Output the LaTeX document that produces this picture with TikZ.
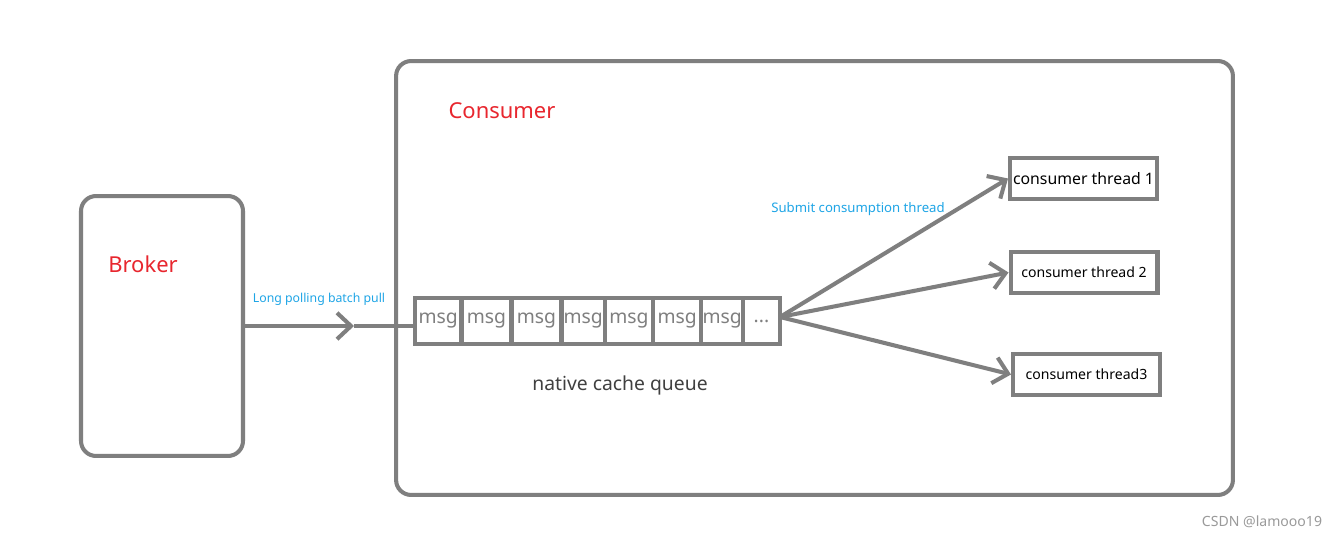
\documentclass[tikz,border=0pt]{standalone}
\usepackage{fontspec}
\setmainfont{Noto Sans}
\usetikzlibrary{positioning,arrows.meta}
\definecolor{linegray}{HTML}{7F7F7F}
\definecolor{titlered}{HTML}{E8262E}
\definecolor{notecyan}{HTML}{1EA5E6}
\definecolor{marksgray}{HTML}{9A9A9A}

\begin{document}
\begin{tikzpicture}[x=0.02cm,y=-0.02cm,
    box/.style={draw=linegray,line width=2.3pt,rounded corners=0.3cm},
    cell/.style={draw=linegray,line width=2.3pt,outer sep=0pt,inner sep=0pt,
      minimum height=0.92cm,text=linegray,font=\fontsize{11}{13}\selectfont},
    thread/.style={draw=linegray,line width=2.3pt,inner sep=0pt,
      minimum width=2.94cm,minimum height=0.82cm},
    flow/.style={draw=linegray,line width=2.3pt,-{Straight Barb[length=8pt,width=15pt]}},
    plain/.style={draw=linegray,line width=2.3pt},
    note/.style={text=notecyan,font=\fontsize{7}{8}\selectfont},
    title/.style={text=titlered,font=\fontsize{12.5}{14}\selectfont}]

                \useasboundingbox (0,0) rectangle (1327,536);
                \fill[white] (0,0) rectangle (1327,536);

                % outer boxes
                \node[box,minimum width=3.24cm,minimum height=5.2cm] (broker) at (162,326) {};
                \node[box,minimum width=16.74cm,minimum height=8.68cm] (consumer) at (814.5,278) {};
                \node[title] (brokerlabel) at (143,264) {Broker};
                \node[title] (consumerlabel) at (502,111) {Consumer};

                % cache queue
                \node[cell,minimum width=0.93cm,anchor=west] (m1) at (415,321) {msg};
                \node[cell,minimum width=1.0cm,right=0pt of m1] (m2) {msg};
                \node[cell,minimum width=1.0cm,right=0pt of m2] (m3) {msg};
                \node[cell,minimum width=0.87cm,right=0pt of m3] (m4) {msg};
                \node[cell,minimum width=0.96cm,right=0pt of m4] (m5) {msg};
                \node[cell,minimum width=0.97cm,right=0pt of m5] (m6) {msg};
                \node[cell,minimum width=0.83cm,right=0pt of m6] (m7) {msg};
                \node[cell,minimum width=0.74cm,right=0pt of m7] (m8) {...};
                \node[text=black!75,font=\fontsize{11}{13}\selectfont] (queuelabel) at (620,385) {native cache queue};

                % pull from broker
                \coordinate (pullhead) at (354,326);
                \draw[flow] (broker.east) -- (pullhead);
                \draw[plain] (pullhead) -- (m1.west |- pullhead);
                \node[note] (pulllabel) at (319,299) {Long polling batch pull};

                % consumer threads
                \node[thread,font=\fontsize{9}{11}\selectfont] (t1) at (1083.5,178.5) {consumer thread 1};
                \node[thread,font=\fontsize{8}{10}\selectfont] (t2) at (1084,272.5) {consumer thread 2};
                \node[thread,font=\fontsize{8}{10}\selectfont] (t3) at (1086.5,374.5) {consumer thread3};

                \coordinate (fanout) at (780,317);
                \draw[flow] (fanout) -- (t1.west);
                \draw[flow] (fanout) -- (t2.west);
                \draw[flow] (fanout) -- (t3.west);
                \node[note,font=\fontsize{7.5}{9}\selectfont] (submitlabel) at (858,209) {Submit consumption thread};

                \node[text=marksgray,font=\fontsize{8}{10}\selectfont] (mark) at (1262,522) {CSDN @lamooo19};

\end{tikzpicture}
\end{document}
